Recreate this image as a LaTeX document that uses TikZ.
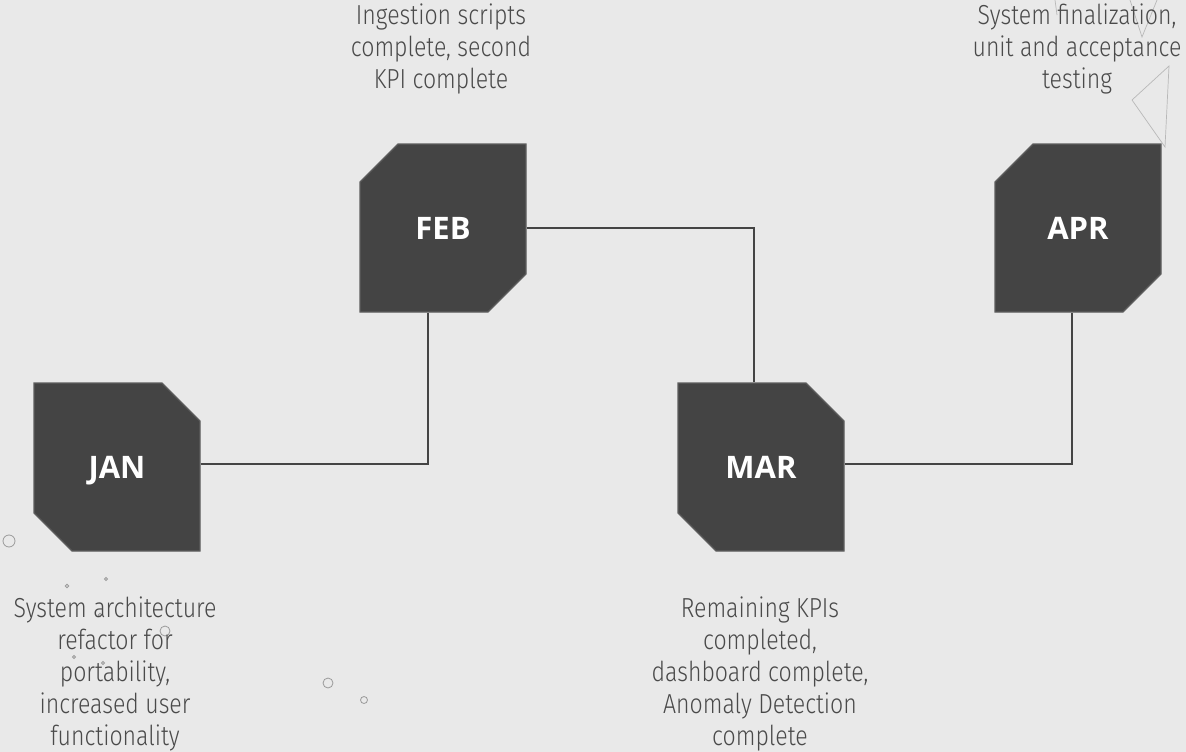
\documentclass[tikz,border=0pt]{standalone}
\usepackage{fontspec}
\setmainfont{Fira Sans}[UprightFont={* Light}, FakeStretch=0.84]
\newfontfamily\monthfont{Open Sans}
\usepackage{xcolor}
\definecolor{paper}{HTML}{E9E9E9}
\definecolor{slate}{HTML}{444444}
\definecolor{slateedge}{HTML}{5E5E5E}
\definecolor{ink}{HTML}{4A4A4A}
\definecolor{speck}{HTML}{9A9A9A}
\usetikzlibrary{positioning,shapes.misc}

\begin{document}
\begin{tikzpicture}[x=1pt,y=-1pt,
		month/.style={chamfered rectangle, chamfered rectangle xsep=27pt, chamfered rectangle ysep=27pt,
			minimum width=166pt, minimum height=168pt, inner sep=0pt, text height=22pt, text depth=0pt,
			fill=slate, draw=slateedge, line width=1.2pt,
			text=white, font=\monthfont\bfseries\fontsize{31}{33}\selectfont},
		note/.style={align=center, text=ink, inner sep=0pt, font=\fontsize{27.5}{31.8}\selectfont},
		link/.style={draw=slate, line width=1.6pt},
		speckle/.style={draw=speck, line width=0.8pt}]
	\fill[paper] (0,0) rectangle (1186,752);
	\useasboundingbox (0,0) rectangle (1186,752);

	%%% faint background decoration
	\draw[speck!70, line width=0.7pt] (1055,0) -- (1057,15);
	\draw[speck!70, line width=0.7pt] (1130,0) -- (1142,37) -- (1157,0);
	\draw[speck!70, line width=0.7pt] (1169,66) -- (1132,100) -- (1165,147) -- cycle;
	\draw[speckle] (9,541) circle (6);
	\draw[speckle] (67,586) circle (1.7);
	\draw[speckle] (106,579) circle (1.5);
	\draw[speckle] (100,615) circle (1.8);
	\draw[speckle] (165,631) circle (5);
	\draw[speckle] (74,657) circle (1.5);
	\draw[speckle] (103,663) circle (1.5);
	\draw[speckle] (328,683) circle (5);
	\draw[speckle] (364,700) circle (3.5);

	%%% months
	\node[month, chamfered rectangle corners={north east,south west}] (jan) at (117,467) {JAN};
	\node[month, chamfered rectangle corners={north west,south east}] (feb) at (443,228) {FEB};
	\node[month, chamfered rectangle corners={north east,south west}] (mar) at (761,467) {MAR};
	\node[month, chamfered rectangle corners={north west,south east}] (apr) at (1078,228) {APR};

	%%% links
	\draw[link] ([yshift=3pt]jan.east) -| ([xshift=-15pt]feb.south);
	\draw[link] (feb.east) -| ([xshift=-7pt]mar.north);
	\draw[link] ([yshift=3pt]mar.east) -| ([xshift=-6pt]apr.south);

	%%% notes
	\node[note, anchor=north] (febnote) at (441,4) {Ingestion scripts\\complete, second\\KPI complete};
	\node[note, anchor=north] (aprnote) at (1077,4) {System finalization,\\unit and acceptance\\testing};
	\node[note, anchor=north] (jannote) at (115,597) {System architecture\\refactor for\\portability,\\increased user\\functionality};
	\node[note, anchor=north] (marnote) at (760,597) {Remaining KPIs\\completed,\\dashboard complete,\\Anomaly Detection\\complete};
\end{tikzpicture}
\end{document}
